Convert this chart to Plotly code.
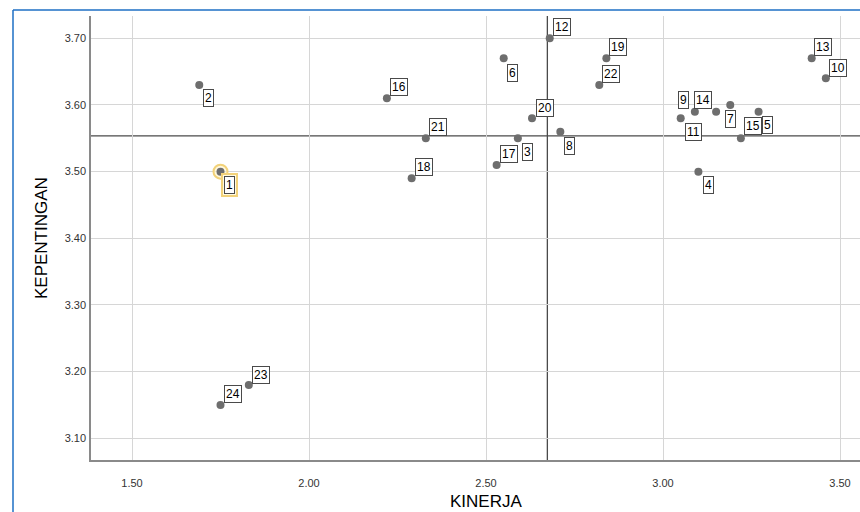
import plotly.graph_objects as go

# ---- data ----
ids = [str(i) for i in range(1, 25)]
kinerja = [1.75, 1.69, 2.59, 3.10, 3.27, 2.55, 3.19, 2.71, 3.09, 3.46, 3.05, 2.68,
           3.42, 3.15, 3.22, 2.22, 2.53, 2.29, 2.84, 2.63, 2.33, 2.82, 1.83, 1.75]
kepentingan = [3.50, 3.63, 3.55, 3.50, 3.59, 3.67, 3.60, 3.56, 3.59, 3.64, 3.58, 3.70,
               3.67, 3.59, 3.55, 3.61, 3.51, 3.49, 3.67, 3.58, 3.55, 3.63, 3.18, 3.15]
x_ticks = [1.5, 2.0, 2.5, 3.0, 3.5]
y_ticks = [3.1, 3.2, 3.3, 3.4, 3.5, 3.6, 3.7]
x_mean = sum(kinerja) / len(kinerja)
y_mean = sum(kepentingan) / len(kepentingan)
highlight = "1"

# ---- label offsets (pixels: dx right, dy down) ----
offsets = {
    "1": (9, 13), "2": (9, 13), "3": (10, 14), "4": (10, 13), "5": (9, 13),
    "6": (9, 15), "7": (0, 14), "8": (9, 14), "9": (-11, -12), "10": (12, -10),
    "11": (13, 14), "12": (12, -11), "13": (11, -11), "14": (-13, -12), "15": (12, -12),
    "16": (12, -11), "17": (12, -11), "18": (12, -11), "19": (12, -11), "20": (13, -10),
    "21": (12, -11), "22": (12, -11), "23": (12, -10), "24": (12, -11),
}

W, H = 860, 512
ML, MR, MT, MB = 91, 0, 16, 52
PW, PH = W - ML - MR, H - MT - MB


def px_x(p):
    return (p - ML) / PW


def px_y(p):
    return (H - MB - p) / PH


FONT = "Arial, Liberation Sans, sans-serif"

fig = go.Figure()

hi = ids.index(highlight)
fig.add_trace(go.Scatter(
    x=[kinerja[hi]], y=[kepentingan[hi]], mode="markers",
    marker=dict(size=14, color="rgba(255,244,200,0.6)",
                line=dict(color="#f2d27a", width=2)),
    hoverinfo="skip", showlegend=False))

fig.add_trace(go.Scatter(
    x=kinerja, y=kepentingan, mode="markers", text=ids,
    marker=dict(size=8, color="#6e6e6e"),
    showlegend=False))

annotations = []
for i, lab in enumerate(ids):
    dx, dy = offsets[lab]
    if lab == highlight:
        annotations.append(dict(
            x=kinerja[i], y=kepentingan[i], xref="x", yref="y", text=lab,
            showarrow=False, xshift=dx, yshift=-dy,
            font=dict(family=FONT, size=12, color="rgba(0,0,0,0)"),
            bgcolor="rgba(255,250,225,1)", bordercolor="#f2d27a", borderwidth=2,
            borderpad=3))
    annotations.append(dict(
        x=kinerja[i], y=kepentingan[i], xref="x", yref="y", text=lab,
        showarrow=False, xshift=dx, yshift=-dy,
        font=dict(family=FONT, size=12, color="#000000"),
        bgcolor="#ffffff", bordercolor="#4a4a4a", borderwidth=1, borderpad=1))

annotations.append(dict(
    x=px_x(486), y=px_y(502), xref="paper", yref="paper", text="KINERJA",
    showarrow=False, xanchor="center", yanchor="middle",
    font=dict(family=FONT, size=17, color="#000000")))
annotations.append(dict(
    x=px_x(41), y=px_y(238), xref="paper", yref="paper", text="KEPENTINGAN",
    showarrow=False, textangle=-90, xanchor="center", yanchor="middle",
    font=dict(family=FONT, size=17, color="#000000")))

shapes = [
    dict(type="line", xref="x", yref="paper", x0=x_mean, x1=x_mean, y0=0, y1=1,
         line=dict(color="#4a4a4a", width=1.3), layer="below"),
    dict(type="line", xref="paper", yref="y", x0=0, x1=1, y0=y_mean, y1=y_mean,
         line=dict(color="#4a4a4a", width=1.3), layer="below"),
    dict(type="line", xref="paper", yref="paper", x0=px_x(13), x1=px_x(13),
         y0=px_y(10), y1=px_y(512), line=dict(color="#1e6fc4", width=1.5)),
    dict(type="line", xref="paper", yref="paper", x0=px_x(13), x1=px_x(860),
         y0=px_y(10), y1=px_y(10), line=dict(color="#1e6fc4", width=1.5)),
]

x_left = 1.5 - (132 - ML) / 354
x_right = 1.5 + (W - MR - 132) / 354
y_top = 3.70 + (38.3 - MT) / 666.7
y_bot = 3.10 - (H - MB - 438.3) / 666.7

fig.update_layout(
    width=W, height=H,
    margin=dict(l=ML, r=MR, t=MT, b=MB, pad=0),
    paper_bgcolor="white", plot_bgcolor="white",
    font=dict(family=FONT),
    annotations=annotations, shapes=shapes,
    xaxis=dict(range=[x_left, x_right], tickvals=x_ticks, tickformat=".2f",
               showgrid=True, gridcolor="#d6d6d6", gridwidth=1, zeroline=False,
               showline=True, linecolor="#8a8a8a", linewidth=1.5,
               ticks="outside", ticklen=12, tickcolor="rgba(0,0,0,0)",
               tickfont=dict(family=FONT, size=11, color="#333333")),
    yaxis=dict(range=[y_bot, y_top], tickvals=y_ticks, tickformat=".2f",
               showgrid=True, gridcolor="#d6d6d6", gridwidth=1, zeroline=False,
               showline=True, linecolor="#8a8a8a", linewidth=1.5,
               ticks="outside", ticklen=1, tickcolor="rgba(0,0,0,0)",
               tickfont=dict(family=FONT, size=11, color="#333333")),
)

fig.write_html("out.html", config={"displayModeBar": False},
               post_script="document.body.style.margin='0';document.body.style.overflow='hidden';")
